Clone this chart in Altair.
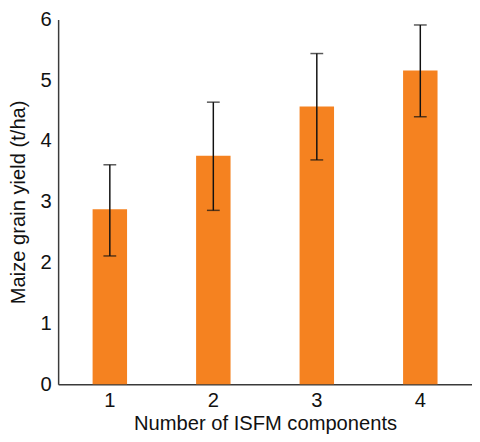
import altair as alt
import pandas as pd

components = ["1", "2", "3", "4"]
yield_mean = [2.88, 3.76, 4.57, 5.16]
err_low = [2.11, 2.86, 3.69, 4.40]
err_high = [3.61, 4.64, 5.44, 5.91]
y_ticks = [0, 1, 2, 3, 4, 5, 6]

df = pd.DataFrame({"n": components, "y": yield_mean, "lo": err_low, "hi": err_high})

FONT = "Liberation Sans"
xscale = alt.Scale(paddingInner=0.667, paddingOuter=0.333)
xenc = alt.X("n:N", scale=xscale, sort=components,
             axis=alt.Axis(title="Number of ISFM components", labelAngle=0, ticks=False,
                           labelPadding=7, titlePadding=3, domainColor="#3a3a3a",
                           domainWidth=1.5))

bars = alt.Chart(df).mark_bar(color="#F58220").encode(
    x=xenc,
    y=alt.Y("y:Q", scale=alt.Scale(domain=[0, 6], nice=False),
            axis=alt.Axis(title="Maize grain yield (t/ha)", values=y_ticks, format="d",
                          ticks=False, grid=False, labelPadding=7, titlePadding=12,
                          domainColor="#3a3a3a", domainWidth=1.5)),
)

rules = alt.Chart(df).mark_rule(color="#111111", strokeWidth=1.5).encode(
    x=alt.X("n:N", scale=xscale, sort=components),
    y="lo:Q",
    y2="hi:Q",
)

cap_lo = alt.Chart(df).mark_tick(color="#111111", thickness=1.5, size=13, orient="horizontal").encode(
    x=alt.X("n:N", scale=xscale, sort=components), y="lo:Q")
cap_hi = alt.Chart(df).mark_tick(color="#111111", thickness=1.5, size=13, orient="horizontal").encode(
    x=alt.X("n:N", scale=xscale, sort=components), y="hi:Q")

chart = alt.layer(bars, rules, cap_lo, cap_hi).properties(
    width=421, height=371,
    autosize=alt.AutoSizeParams(type="none"),
    padding={"left": 51, "top": 8, "right": 0, "bottom": 50},
).configure_view(stroke=None).configure_axis(
    labelFont=FONT, titleFont=FONT, labelFontSize=20.5, titleFontSize=20.5,
    labelColor="#111111", titleColor="#111111", titleFontWeight="normal", grid=False,
)

chart.save("out.html", embed_options={"renderer": "svg", "actions": False})
